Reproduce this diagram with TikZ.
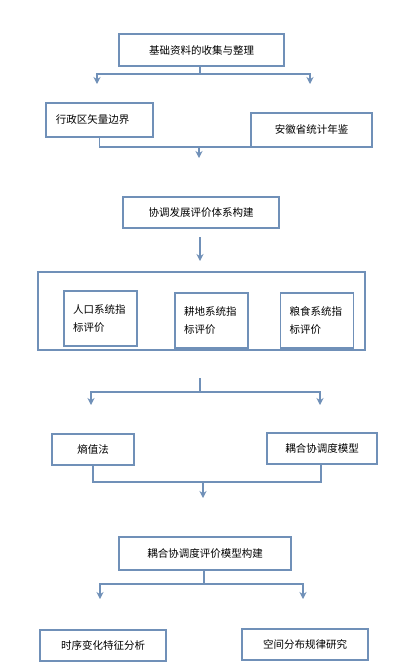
\documentclass[tikz,border=0pt]{standalone}
\usepackage{xcolor}
\usepackage{fontspec}
\usepackage{tikz}
\usetikzlibrary{positioning}
\usetikzlibrary{arrows.meta}
\newfontfamily\cjk{Noto Sans CJK SC}
\definecolor{flowblue}{HTML}{7090B8}

\begin{document}
\begin{tikzpicture}[x=1pt,y=-1pt]
\tikzset{box/.style={rectangle,draw=flowblue,line width=1.6pt,fill=white,
		inner sep=0pt,font=\cjk\fontsize{10.5}{18}\selectfont},
	lbox/.style={box,align=left,inner sep=9pt,text width=55pt,minimum height=55pt},
	link/.style={draw=flowblue,line width=1.6pt},
	arr/.style={link,-{Stealth[length=7pt,width=7pt]}}}

\useasboundingbox[fill=white] (0,0) rectangle (402,670);

\node[box,minimum width=165pt,minimum height=32pt] (collect) at (201.5,50) {基础资料的收集与整理};

\node[box,align=left,inner sep=10pt,text width=87pt,minimum height=34pt] (border) at (99.5,120) {行政区矢量边界};

\node[box,minimum width=121pt,minimum height=34pt] (yearbook) at (311.5,130) {安徽省统计年鉴};

\node[box,minimum width=156pt,minimum height=31pt] (system) at (201,212.5) {协调发展评价体系构建};

\node[box,minimum width=327pt,minimum height=78pt] (frame) at (201.5,311) {};

\node[lbox] (pop) at (100.5,318.5) {人口系统指\\标评价};

\node[lbox] (land) at (211.5,320.5) {耕地系统指\\标评价};

\node[lbox] (food) at (317,320.5) {粮食系统指\\标评价};

\node[box,minimum width=82pt,minimum height=31pt] (entropy) at (93,449.5) {熵值法};

\node[box,minimum width=110pt,minimum height=31pt] (coupling) at (322,448.5) {耦合协调度模型};

\node[box,minimum width=172pt,minimum height=33pt] (model) at (205,553.5) {耦合协调度评价模型构建};

\node[box,minimum width=126pt,minimum height=31pt] (timeseq) at (103,645.5) {时序变化特征分析};

\node[box,minimum width=126pt,minimum height=31pt] (spatial) at (305,644.5) {空间分布规律研究};

% fork below the data collection
\coordinate (f1) at (200,74);
\coordinate (f1a) at (97,84);
\coordinate (f1b) at (310,84);
\draw[link] (collect.south -| f1) -- (f1);
\draw[arr] (f1) -| (f1a);
\draw[arr] (f1) -| (f1b);

% join of the two data sources
\coordinate (j1) at (199,147);
\coordinate (j1e) at (312,147);
\coordinate (j1t) at (199,158);
\draw[link] (border.south) |- (j1e);
\draw[arr] (j1) -- (j1t);

\coordinate (s1) at (200,237);
\coordinate (s1t) at (200,261);
\draw[arr] (s1) -- (s1t);

% fork below the index system
\coordinate (f2s) at (200,378);
\coordinate (f2) at (200,392);
\coordinate (f2a) at (91,405);
\coordinate (f2b) at (320,405);
\draw[link] (f2s) -- (f2);
\draw[arr] (f2) -| (f2a);
\draw[arr] (f2) -| (f2b);

% join of the two methods
\coordinate (j2) at (203,482);
\coordinate (j2t) at (203,498);
\draw[link] (entropy.south) |- (j2) -| (coupling.south -| 321,0);
\draw[arr] (j2) -- (j2t);

% fork below the model
\coordinate (f3) at (204,584);
\coordinate (f3a) at (100,599);
\coordinate (f3b) at (303,599);
\draw[link] (model.south -| f3) -- (f3);
\draw[arr] (f3) -| (f3a);
\draw[arr] (f3) -| (f3b);
\end{tikzpicture}
\end{document}
